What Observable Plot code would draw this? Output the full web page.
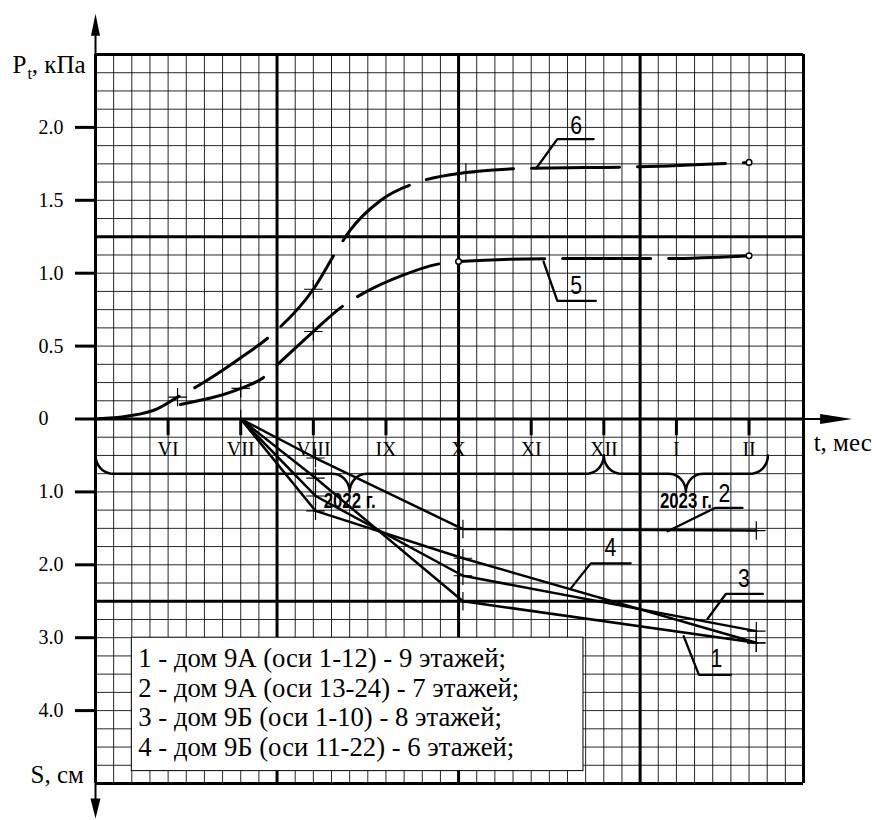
<!DOCTYPE html>
<html><head><meta charset="utf-8">
<script src="https://cdn.jsdelivr.net/npm/d3@7"></script>
<script src="https://cdn.jsdelivr.net/npm/@observablehq/plot@0.6"></script>
<style>body{margin:0;background:#fff}</style>
</head><body><div id="chart"></div>
<script>
// ---------- DATA ----------
// month number: 5 = V 2022 ... 12 = XII 2022, 13 = I 2023, 14 = II 2023
const monthTicks  = [6, 7, 8, 9, 10, 11, 12, 13, 14];
const monthLabels = ["VI", "VII", "VIII", "IX", "X", "XI", "XII", "I", "II"];

// pressure P_t, kPa (curves 5 and 6)
const p6Months = [5, 5.45, 5.85, 6.13, 6.42, 7, 7.43, 8, 8.34, 8.5, 8.93, 9.48, 10.1, 11, 12.5, 14];
const p6Values = [0, 0.02, 0.07, 0.15, 0.23, 0.42, 0.58, 0.89, 1.17, 1.29, 1.5, 1.63, 1.69, 1.72, 1.73, 1.76];
const p5Months = [6.17, 7, 7.3, 7.52, 8, 8.42, 8.68, 9.2, 9.8, 10, 11.3, 12.8, 14];
const p5Values = [0.10, 0.21, 0.28, 0.38, 0.60, 0.78, 0.86, 0.98, 1.07, 1.08, 1.10, 1.10, 1.12];
const p6CrossMonths = [6.13, 8, 10.1], p6CrossValues = [0.15, 0.89, 1.69];
const p5CrossMonths = [7, 8],          p5CrossValues = [0.21, 0.60];
const pRingMonths = [14, 10, 14],      pRingValues = [1.76, 1.08, 1.12];

// settlement S, cm (lines 1-4)
const sMonths = [7, 8.03, 10.06, 14.1];
const s1 = [0, 0.81, 2.50, 3.07];
const s2 = [0, 0.535, 1.51, 1.53];
const s3 = [0, 1.056, 2.15, 2.91];
const s4 = [0, 1.26, 1.91, 3.07];

// y axis ticks (shared vertical scale: kPa above zero, cm below; 1 cm = 0.5 units)
const yTicks = [-2, -1.5, -1, -0.5, 0, 0.5, 1, 1.5, 2];

const legendLines = [
  "1 - дом 9А (оси 1-12) - 9 этажей;",
  "2 - дом 9А (оси 13-24) - 7 этажей;",
  "3 - дом 9Б (оси 1-10) - 8 этажей;",
  "4 - дом 9Б (оси 11-22) - 6 этажей;"
];
const yearLabels = ["2022 г.", "2023 г."];
const curveLabels = ["6", "5", "2", "4", "3", "1"];

// ---------- annotation anchors (data units: month, kPa / cm) ----------
const leaderP = [ // in kPa
  {id: "6", pts: [[11.07, 1.72], [11.36, 1.92], [11.86, 1.92]], label: [11.62, 2.01]},
  {id: "5", pts: [[11.17, 1.08], [11.36, 0.81], [11.89, 0.81]], label: [11.62, 0.91]}
];
const leaderS = [ // in cm
  {id: "2", pts: [[12.88, 1.54], [13.53, 1.22], [13.91, 1.22]], label: [13.66, 1.03]},
  {id: "4", pts: [[11.54, 2.33], [11.82, 1.98], [12.37, 1.98]], label: [12.09, 1.77]},
  {id: "3", pts: [[13.43, 2.74], [13.68, 2.40], [14.19, 2.40]], label: [13.93, 2.19]},
  {id: "1", pts: [[13.10, 2.98], [13.31, 3.51], [13.75, 3.51]], label: [13.55, 3.29]}
];
const braces = [{a: 5, b: 12, year: yearLabels[0]}, {a: 12, b: 14.26, year: yearLabels[1]}];
const legendBox = {x1: 5.5, x2: 11.72, s1: 3.0, s2: 4.83, textX: 5.59, rowS: [3.28, 3.69, 4.10, 4.51]};

// ---------- helpers ----------
const sy = s => -s / 2;            // settlement (cm) -> vertical scale units
const X0 = 5, X1 = 14.75;
const fineX = d3.range(0, 40).map(i => X0 + i * 0.25);
const fineY = d3.range(-20, 21).map(i => i * 0.125);
const thickX = [5, 7.5, 10, 12.5, 14.75];
const thickY = [-2.5, -1.25, 0, 1.25, 2.5];

function brace(a, b, s0, s2, rx, rs) {
  const m = (a + b) / 2, pts = [];
  const arc = (cx, cs, t0, t1) => { for (let k = 0; k <= 10; k++) { const t = t0 + (t1 - t0) * k / 10; pts.push({x: cx + rx * Math.cos(t), y: sy(cs + rs * Math.sin(t))}); } };
  arc(a + rx, s0, Math.PI, Math.PI / 2);
  arc(m - rx, s2, -Math.PI / 2, 0);
  arc(m + rx, s2, Math.PI, 1.5 * Math.PI);
  arc(b - rx, s0, Math.PI / 2, 0);
  return pts;
}

const p6 = p6Months.map((m, i) => ({x: m, y: p6Values[i]}));
const p5 = p5Months.map((m, i) => ({x: m, y: p5Values[i]}));
const pCross = [...p6CrossMonths.map((m, i) => ({x: m, y: p6CrossValues[i]})), ...p5CrossMonths.map((m, i) => ({x: m, y: p5CrossValues[i]}))];
const pRing = pRingMonths.map((m, i) => ({x: m, y: pRingValues[i]}));
const sSeries = [["1", s1], ["2", s2], ["3", s3], ["4", s4]];
const sRows = sSeries.flatMap(([k, v]) => sMonths.map((m, i) => ({k, x: m, y: sy(v[i])})));
const sMarks = sRows.filter(d => d.x !== 7);

const leaderRows = [
  ...leaderP.flatMap(l => l.pts.map(p => ({k: l.id, x: p[0], y: p[1]}))),
  ...leaderS.flatMap(l => l.pts.map(p => ({k: l.id, x: p[0], y: sy(p[1])})))
];
const leaderText = [
  ...leaderP.map(l => ({t: l.id, x: l.label[0], y: l.label[1]})),
  ...leaderS.map(l => ({t: l.id, x: l.label[0], y: sy(l.label[1])}))
];
const braceRows = braces.flatMap((b, j) => brace(b.a, b.b, 0.5, 1.0, 0.24, 0.25).map(p => ({...p, k: j})));
const yearText = braces.map(b => ({t: b.year, x: (b.a + b.b) / 2, y: sy(1.12)}));

const headRight = {draw(c) { c.moveTo(0, 0); c.lineTo(-32, -5); c.lineTo(-32, 5); c.closePath(); }};
const headUp    = {draw(c) { c.moveTo(0, 0); c.lineTo(-4.5, 22); c.lineTo(4.5, 22); c.closePath(); }};
const headDown  = {draw(c) { c.moveTo(0, 0); c.lineTo(-5, -20); c.lineTo(5, -20); c.closePath(); }};

const serif = "'Liberation Serif', 'Times New Roman', serif";
const gost = "'Liberation Sans', Arial, sans-serif";

const chart = Plot.plot({
  width: 876, height: 820,
  marginLeft: 95, marginRight: 73, marginTop: 54, marginBottom: 37,
  x: {domain: [X0, X1], axis: null},
  y: {domain: [-2.5, 2.5]},
  style: {fontFamily: serif, background: "white", overflow: "visible", color: "black"},
  marks: [
    // grid
    Plot.ruleX(fineX, {stroke: "black", strokeWidth: 1, strokeOpacity: 0.85}),
    Plot.ruleY(fineY, {stroke: "black", strokeWidth: 1, strokeOpacity: 0.85}),
    Plot.ruleX(thickX, {stroke: "black", strokeWidth: 3}),
    Plot.ruleY(thickY, {stroke: "black", strokeWidth: 3}),
    // axis extensions and arrowheads
    Plot.ruleX([X0], {y1: 2.5, y2: 2.72, strokeWidth: 2}),
    Plot.ruleX([X0], {y1: -2.5, y2: -2.68, strokeWidth: 2}),
    Plot.ruleY([0], {x1: X1, x2: 15.2, strokeWidth: 2}),
    Plot.dot([{x: 15.42, y: 0}], {x: "x", y: "y", symbol: headRight, fill: "black", stroke: "none"}),
    Plot.dot([{x: X0, y: 2.78}], {x: "x", y: "y", symbol: headUp, fill: "black", stroke: "none"}),
    Plot.dot([{x: X0, y: -2.74}], {x: "x", y: "y", symbol: headDown, fill: "black", stroke: "none"}),
    // y axis
    Plot.axisY(yTicks, {tickSize: 20, tickPadding: 37, textAnchor: "start", strokeWidth: 3, fontSize: 20, label: null,
      tickFormat: d => d > 0 ? d.toFixed(1) : d < 0 ? (-2 * d).toFixed(1) : "0"}),
    // month ticks & labels
    Plot.ruleX(monthTicks, {y1: 0, y2: -0.115, strokeWidth: 3}),
    Plot.text(monthTicks, {x: d => d, y: -0.21, text: (d, i) => monthLabels[i], fontSize: 20}),
    // braces
    Plot.line(braceRows, {x: "x", y: "y", z: "k", strokeWidth: 2.5, curve: "linear"}),
    Plot.text(yearText, {x: "x", y: "y", text: "t", fontFamily: gost, fontWeight: "bold", fontSize: 21.5}),
    // pressure curves
    Plot.line(p6, {x: "x", y: "y", strokeWidth: 3, strokeDasharray: "88,18", curve: "monotone-x"}),
    Plot.line(p5, {x: "x", y: "y", strokeWidth: 3, strokeDasharray: "88,18", curve: "monotone-x"}),
    Plot.dot(pCross, {x: "x", y: "y", symbol: "plus", r: 6, stroke: "black", strokeWidth: 1.2}),
    Plot.dot(pRing, {x: "x", y: "y", symbol: "circle", r: 2.8, stroke: "black", fill: "white", strokeWidth: 1.5}),
    // settlement lines
    Plot.line(sRows, {x: "x", y: "y", z: "k", strokeWidth: 2.5}),
    Plot.dot(sMarks, {x: "x", y: "y", symbol: "plus", r: 6, stroke: "black", strokeWidth: 1.2}),
    Plot.dot([{x: 7, y: 0}], {x: "x", y: "y", symbol: "plus", r: 6, stroke: "black", strokeWidth: 1.2}),
    // leaders and curve numbers
    Plot.line(leaderRows, {x: "x", y: "y", z: "k", strokeWidth: 2.3}),
    Plot.text(leaderText, {x: "x", y: "y", text: "t", fontFamily: gost, fontSize: 25, fill: "black"}),
    // legend box
    Plot.rect([legendBox], {x1: "x1", x2: "x2", y1: d => sy(d.s1), y2: d => sy(d.s2), fill: "white", stroke: "black", strokeWidth: 1}),
    Plot.text(legendLines, {x: legendBox.textX, y: (d, i) => sy(legendBox.rowS[i]), text: d => d, textAnchor: "start", fontSize: 26.7}),
    // axis titles
    Plot.text(["Pt, кПа"], {x: 3.857, y: 2.43, text: d => d, textAnchor: "start", fontSize: 25}),
    Plot.text(["S, см"], {x: 4.105, y: -2.445, text: d => d, textAnchor: "start", fontSize: 25}),
    Plot.text(["t, мес"], {x: 14.89, y: -0.168, text: d => d, textAnchor: "start", fontSize: 25})
  ]
});

// post-processing of a few texts: subscript in P_t, narrow drafting-style labels
function condense(el, k) {
  const x = +el.getAttribute("x") || 0, y = +el.getAttribute("y") || 0;
  const t = el.getAttribute("transform") || "";
  el.setAttribute("transform", `${t} translate(${x},${y}) scale(${k},1) translate(${-x},${-y})`);
}
chart.querySelectorAll("text").forEach(el => {
  const s = el.textContent;
  if (s === "Pt, кПа") {
    el.textContent = "";
    const ns = "http://www.w3.org/2000/svg";
    const a = document.createElementNS(ns, "tspan"); a.textContent = "P";
    const b = document.createElementNS(ns, "tspan"); b.textContent = "t"; b.setAttribute("dy", "6"); b.setAttribute("dx", "1"); b.setAttribute("font-size", "16");
    const c = document.createElementNS(ns, "tspan"); c.textContent = ", кПа"; c.setAttribute("dy", "-6");
    el.append(a, b, c);
  } else if (yearLabels.includes(s)) condense(el, 0.78);
  else if (curveLabels.includes(s)) condense(el, 0.85);
});
document.getElementById("chart").append(chart);
</script>
</body></html>
